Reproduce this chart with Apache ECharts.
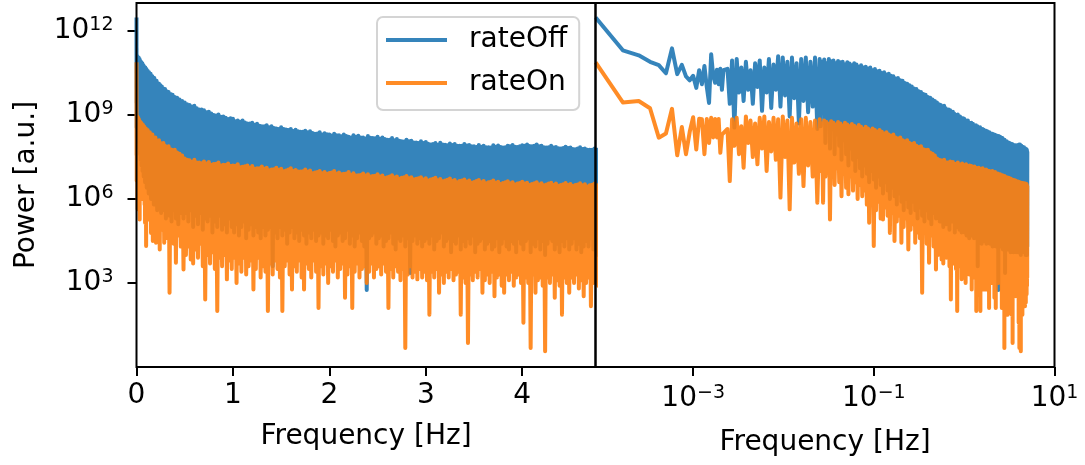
<!DOCTYPE html>
<html>
<head>
<meta charset="utf-8">
<script src="https://cdn.jsdelivr.net/npm/echarts@6/dist/echarts.min.js"></script>
<style>html,body{margin:0;padding:0;background:#fff;}#chart{width:1085px;height:465px;}</style>
</head>
<body>
<div id="chart"></div>
<script>
// ---- data (powers given as log10 exponents) ----
const freqResolution = 8.33e-5;            // Hz, spacing of the lowest bins
const seriesNames = ['rateOff', 'rateOn'];

// lowest 26 bins (f = k * freqResolution)
const rateOffLowBins = [12.48, 11.31, 11.13, 10.9, 10.78, 10.49, 11.38, 10.46, 10.79, 10.38, 10.24, 10.4, 9.97, 10.6, 10.1, 10.75, 10.0, 9.43, 11.17, 10.4, 10.15, 10.62, 10.1, 10.65, 9.9, 10.6];
const rateOnLowBins = [10.88, 9.45, 9.5, 9.24, 8.19, 8.34, 9.22, 7.56, 8.57, 7.6, 8.4, 8.92, 7.77, 8.87, 8.85, 7.6, 8.86, 8.0, 8.9, 8.2, 8.86, 8.2, 8.86, 7.65, 8.3, 8.23];

// band 1, log-frequency 10^-2.62 ... 10^-1.63 Hz
const band1StartExp = -2.62, band1StepExp = 0.0255;
const rateOffBand1 = [10.65, 9.4, 10.95, 8.55, 11.0, 9.8, 10.7, 9.5, 10.9, 9.9, 10.6, 9.4, 10.85, 10.0, 10.95, 9.15, 10.7, 9.8, 11.0, 9.25, 10.8, 9.9, 11.1, 9.3, 11.05, 9.7, 10.9, 8.95, 11.05, 9.6, 10.85, 8.7, 11.0, 9.5, 11.05, 9.1, 10.9, 9.3, 11.05, 8.5];
const rateOnBand1 = [8.5, 6.64, 8.85, 7.9, 8.9, 7.6, 8.6, 7.12, 8.95, 8.0, 8.8, 7.5, 8.7, 7.24, 8.9, 7.8, 8.95, 7.0, 8.75, 7.7, 8.9, 7.4, 8.85, 6.05, 8.95, 7.5, 8.8, 5.63, 8.9, 7.3, 8.7, 6.9, 8.85, 6.46, 8.9, 7.2, 8.75, 6.8, 8.8, 5.87];

// band 2, log-frequency 10^-1.6 ... ~0.49 Hz: peaks at even steps, troughs at odd steps
const band2StartExp = -1.6, band2StepExp = 0.012752;
const rateOffBand2Peaks = [11.0, 10.9, 10.98, 10.85, 11.0, 10.92, 10.95, 10.85, 10.93, 10.88, 10.9, 10.8, 10.88, 10.84, 10.78, 10.85, 10.8, 10.72, 10.78, 10.7, 10.72, 10.66, 10.7, 10.6, 10.64, 10.56, 10.58, 10.5, 10.53, 10.45, 10.47, 10.4, 10.38, 10.3, 10.32, 10.24, 10.22, 10.14, 10.12, 10.06, 10.02, 9.95, 9.93, 9.85, 9.82, 9.75, 9.72, 9.64, 9.62, 9.55, 9.5];
const rateOffBand2Troughs = [8.6, 9.2, 8.0, 8.8, 7.8, 8.5, 7.6, 8.3, 7.9, 7.4, 8.1, 7.6, 7.2, 7.8, 7.4, 7.0, 7.5, 7.1, 6.8, 7.2, 6.9, 6.6, 7.0, 6.7, 6.4, 6.8, 6.5, 6.2, 6.6, 6.3, 6.0, 6.4, 6.1, 5.8, 6.2, 5.9, 5.6, 6.0, 5.7, 5.5, 5.9, 5.6, 5.3, 5.7, 5.4, 5.2, 5.6, 5.3, 5.1, 5.5, 5.3];
const rateOnBand2Peaks = [8.85, 8.7, 8.8, 8.75, 8.68, 8.78, 8.72, 8.65, 8.75, 8.7, 8.62, 8.72, 8.66, 8.6, 8.68, 8.62, 8.55, 8.64, 8.58, 8.5, 8.58, 8.52, 8.45, 8.52, 8.46, 8.4, 8.46, 8.4, 8.34, 8.38, 8.3, 8.26, 8.3, 8.2, 8.16, 8.2, 8.1, 8.06, 8.1, 8.0, 7.96, 8.0, 7.9, 7.86, 7.88, 7.78, 7.75, 7.76, 7.66, 7.62, 7.55];
const rateOnBand2Troughs = [7.0, 5.87, 6.8, 7.2, 5.27, 6.9, 6.5, 7.1, 6.6, 6.1, 6.9, 6.4, 6.17, 6.8, 6.3, 6.6, 6.0, 6.5, 6.1, 6.3, 5.8, 5.15, 6.0, 4.32, 5.6, 5.9, 5.3, 5.27, 5.7, 5.4, 4.79, 5.5, 4.5, 5.2, 5.4, 4.44, 5.0, 5.3, 4.2, 4.9, 5.1, 4.44, 4.8, 4.6, 2.65, 4.9, 4.4, 3.72, 4.7, 4.3, 3.48];

// band 3, 0.5 ... 5.0 Hz every 0.0125 Hz: peaks at even steps, troughs at odd steps
const band3Start = 0.5, band3Step = 0.0125;
const rateOffPeaks = [9.45, 9.38, 9.36, 9.3, 9.33, 9.24, 9.2, 9.2, 9.17, 9.1, 9.12, 9.05, 9.0, 8.98, 9.02, 8.94, 8.95, 8.9, 8.86, 8.88, 8.87, 8.78, 8.8, 8.76, 8.8, 8.73, 8.7, 8.7, 8.72, 8.65, 8.69, 8.62, 8.6, 8.6, 8.63, 8.56, 8.6, 8.54, 8.52, 8.5, 8.56, 8.5, 8.48, 8.46, 8.5, 8.43, 8.47, 8.42, 8.4, 8.4, 8.44, 8.38, 8.42, 8.36, 8.33, 8.34, 8.38, 8.3, 8.35, 8.31, 8.3, 8.27, 8.33, 8.28, 8.28, 8.24, 8.3, 8.25, 8.22, 8.2, 8.28, 8.22, 8.26, 8.2, 8.2, 8.16, 8.25, 8.19, 8.18, 8.17, 8.22, 8.15, 8.2, 8.14, 8.12, 8.12, 8.18, 8.1, 8.14, 8.08, 8.06, 8.05, 8.12, 8.06, 8.08, 8.02, 8.02, 8.0, 8.06, 8.0, 8.04, 7.97, 7.95, 7.96, 8.0, 7.94, 8.01, 7.95, 7.94, 7.92, 7.98, 7.93, 7.96, 7.9, 7.9, 7.9, 7.96, 7.91, 7.93, 7.88, 7.88, 7.86, 7.93, 7.87, 7.9, 7.85, 7.85, 7.84, 7.92, 7.87, 7.91, 7.86, 7.84, 7.85, 7.9, 7.88, 7.93, 7.87, 7.86, 7.88, 7.92, 7.9, 7.95, 7.89, 7.88, 7.9, 7.95, 7.88, 7.9, 7.85, 7.84, 7.85, 7.9, 7.84, 7.86, 7.81, 7.8, 7.82, 7.87, 7.82, 7.84, 7.79, 7.78, 7.8, 7.85, 7.79, 7.8, 7.76, 7.76, 7.76, 7.8, 7.76, 7.78, 7.73, 7.74, 7.74, 7.78, 7.73, 7.75, 7.7, 7.7];
const rateOffTroughs = [5.5, 5.2, 5.6, 5.0, 5.4, 5.1, 5.5, 4.9, 5.3, 5.2, 5.4, 4.8, 5.2, 5.0, 5.4, 4.9, 5.1, 4.8, 5.3, 5.0, 4.8, 5.1, 4.7, 5.0, 5.2, 4.6, 4.9, 5.1, 4.7, 5.0, 4.8, 4.6, 5.0, 4.7, 4.9, 5.0, 3.6, 4.8, 4.6, 5.0, 4.7, 4.9, 4.4, 4.8, 5.0, 4.6, 4.8, 4.5, 4.9, 4.7, 4.4, 4.8, 4.6, 4.9, 4.5, 4.7, 4.8, 4.4, 4.7, 4.6, 4.9, 4.5, 4.3, 4.7, 4.8, 4.5, 4.6, 4.9, 4.4, 4.7, 4.3, 4.6, 4.8, 4.5, 4.3, 2.75, 4.6, 4.7, 4.8, 4.4, 4.6, 4.7, 4.3, 4.5, 4.6, 4.8, 4.4, 4.2, 4.6, 4.5, 4.7, 4.3, 4.6, 3.36, 4.5, 4.7, 4.4, 4.6, 4.3, 4.5, 4.6, 4.4, 4.7, 4.2, 4.5, 4.6, 4.8, 4.3, 4.5, 4.6, 4.1, 4.5, 4.4, 4.7, 4.2, 4.5, 4.3, 4.6, 4.4, 4.7, 4.1, 4.4, 4.5, 4.6, 4.2, 4.4, 4.5, 4.2, 4.3, 4.6, 4.1, 4.4, 4.6, 4.3, 4.2, 4.5, 4.4, 4.1, 4.6, 4.4, 4.2, 4.5, 4.6, 4.1, 4.4, 4.3, 4.6, 4.2, 4.5, 4.0, 4.4, 4.6, 4.5, 4.2, 4.4, 4.1, 4.5, 4.3, 4.6, 4.2, 4.4, 4.6, 4.2, 4.4, 4.1, 4.3, 4.5, 4.3, 4.6, 4.2, 4.4, 4.0, 4.3, 4.5, 4.2, 4.4, 4.1, 4.3, 4.0, 4.3];
const rateOnPeaks = [7.45, 7.4, 7.38, 7.33, 7.4, 7.3, 7.3, 7.28, 7.34, 7.27, 7.32, 7.22, 7.25, 7.26, 7.3, 7.2, 7.22, 7.21, 7.27, 7.18, 7.2, 7.19, 7.24, 7.13, 7.15, 7.17, 7.2, 7.12, 7.18, 7.08, 7.1, 7.1, 7.16, 7.08, 7.12, 7.03, 7.05, 7.06, 7.12, 7.04, 7.08, 6.99, 7.02, 7.05, 7.1, 7.0, 7.04, 6.98, 6.98, 6.99, 7.05, 6.97, 7.02, 6.92, 6.95, 6.96, 7.0, 6.92, 6.96, 6.9, 6.93, 6.95, 7.0, 6.9, 6.95, 6.88, 6.9, 6.91, 6.96, 6.87, 6.92, 6.84, 6.85, 6.86, 6.91, 6.84, 6.88, 6.8, 6.82, 6.83, 6.88, 6.8, 6.84, 6.75, 6.78, 6.8, 6.85, 6.77, 6.8, 6.72, 6.76, 6.78, 6.82, 6.74, 6.78, 6.7, 6.72, 6.74, 6.78, 6.7, 6.74, 6.66, 6.7, 6.72, 6.76, 6.67, 6.71, 6.63, 6.66, 6.69, 6.73, 6.64, 6.68, 6.6, 6.64, 6.66, 6.7, 6.62, 6.66, 6.58, 6.61, 6.64, 6.68, 6.6, 6.64, 6.56, 6.6, 6.62, 6.66, 6.58, 6.62, 6.54, 6.57, 6.6, 6.63, 6.56, 6.6, 6.52, 6.55, 6.57, 6.62, 6.55, 6.58, 6.5, 6.54, 6.56, 6.6, 6.52, 6.56, 6.49, 6.52, 6.55, 6.58, 6.5, 6.55, 6.47, 6.5, 6.53, 6.57, 6.5, 6.54, 6.46, 6.5, 6.52, 6.56, 6.49, 6.53, 6.45, 6.49, 6.51, 6.55, 6.48, 6.52, 6.44, 6.48, 6.5, 6.54, 6.46, 6.5, 6.44, 6.47];
const rateOnTroughs = [4.0, 4.3, 3.84, 3.7, 4.2, 3.9, 4.4, 3.6, 2.41, 4.0, 3.7, 4.1, 3.5, 2.0, 3.9, 3.6, 4.0, 3.13, 3.8, 3.5, 3.9, 3.0, 3.7, 3.4, 3.9, 3.3, 3.6, 3.8, 2.77, 3.5, 3.9, 3.2, 3.6, 3.4, 2.0, 3.7, 3.3, 3.8, 3.5, 3.2, 2.0, 3.6, 3.8, 3.3, 2.77, 3.6, 3.4, 3.8, 3.2, 2.77, 3.7, 3.5, 3.2, 3.8, 3.4, 2.11, 3.6, 3.3, 3.7, 3.0, 3.6, 3.4, 3.8, 3.2, 3.5, 3.7, 2.47, 3.3, 3.6, 2.11, 3.4, 3.7, 3.2, 3.5, 3.6, 3.0, 3.4, 3.7, 3.2, 3.5, 3.6, 3.3, 3.7, 3.4, 2.11, 3.5, 3.2, 3.6, 3.4, 3.1, 3.5, 0.68, 3.3, 3.6, 3.2, 3.4, 3.13, 3.5, 3.2, 3.4, 3.1, 1.87, 3.4, 3.2, 3.5, 2.65, 3.3, 3.0, 3.4, 3.2, 3.5, 3.1, 3.3, 3.4, 1.87, 3.2, 3.0, 0.86, 3.3, 3.1, 3.4, 3.2, 3.5, 2.65, 3.1, 3.3, 3.0, 3.4, 2.53, 3.2, 3.3, 2.9, 2.65, 3.3, 3.1, 3.4, 2.9, 3.2, 3.3, 3.0, 1.58, 3.2, 3.0, 0.68, 3.3, 2.65, 3.1, 3.2, 2.9, 0.56, 3.2, 3.0, 3.3, 2.47, 3.1, 2.9, 1.87, 3.2, 3.0, 2.65, 3.2, 3.0, 3.3, 2.8, 3.1, 2.53, 3.0, 3.2, 2.17, 3.0, 3.2, 2.9, 2.3, 3.1, 2.8, 3.0, 2.6, 3.1, 2.9, 3.2];

// axis ticks
const linearTicks = [0, 1, 2, 3, 4];
const logFreqTicks = [1e-3, 1e-1, 1e1];
const powerTicks = [1e3, 1e6, 1e9, 1e12];

// ---- build point lists ----
function pushAlternating(pts, peaks, troughs, freqOf) {
  const n = peaks.length + troughs.length;
  for (let i = 0; i < n; i++) {
    const e = i % 2 === 0 ? peaks[i / 2] : troughs[(i - 1) / 2];
    pts.push([freqOf(i), Math.pow(10, e)]);
  }
}
function buildPoints(lowBins, band1, b2Peaks, b2Troughs, b3Peaks, b3Troughs) {
  const pts = [];
  lowBins.forEach((e, k) => pts.push([(k + 1) * freqResolution, Math.pow(10, e)]));
  band1.forEach((e, j) => pts.push([Math.pow(10, band1StartExp + band1StepExp * j), Math.pow(10, e)]));
  pushAlternating(pts, b2Peaks, b2Troughs, i => Math.pow(10, band2StartExp + band2StepExp * i));
  pushAlternating(pts, b3Peaks, b3Troughs, i => band3Start + band3Step * i);
  return pts;
}
const rateOffPts = buildPoints(rateOffLowBins, rateOffBand1, rateOffBand2Peaks, rateOffBand2Troughs, rateOffPeaks, rateOffTroughs);
const rateOnPts = buildPoints(rateOnLowBins, rateOnBand1, rateOnBand2Peaks, rateOnBand2Troughs, rateOnPeaks, rateOnTroughs);

const FONT = 'DejaVu Sans';
const blue = 'rgba(31,119,180,0.9)';
const orange = 'rgba(255,127,14,0.9)';

function sciLabel(v) {
  const e = Math.round(Math.log10(v));
  return '{b|10}{s|' + String(e).replace('-', '\u2212') + '}';
}
const sciRich = {
  b: { fontSize: 28, fontFamily: FONT, color: '#000', lineHeight: 30 },
  s: { fontSize: 19, fontFamily: FONT, color: '#000', lineHeight: 16, verticalAlign: 'top' }
};

function lineSeries(name, data, color, idx) {
  return {
    name: name, type: 'line', data: data, xAxisIndex: idx, yAxisIndex: idx,
    symbol: 'none', showSymbol: false, animation: false, clip: true,
    color: color,
    lineStyle: { color: color, width: 4, join: 'round', cap: 'butt' }
  };
}

const chart = echarts.init(document.getElementById('chart'), null, { renderer: 'canvas' });
chart.setOption({
  animation: false,
  backgroundColor: '#fff',
  textStyle: { fontFamily: FONT },
  grid: [
    { left: 136.5, top: 3, width: 459, height: 364, show: true, borderColor: '#000', borderWidth: 2, backgroundColor: 'transparent', z: 10 },
    { left: 595.5, top: 3, width: 459, height: 364, show: true, borderColor: '#000', borderWidth: 2, backgroundColor: 'transparent', z: 10 }
  ],
  legend: {
    data: [
      { name: seriesNames[0], itemStyle: { color: blue } },
      { name: seriesNames[1], itemStyle: { color: orange } }
    ],
    orient: 'vertical', left: 377, top: 17,
    padding: [8, 12, 12, 9], itemGap: 13,
    itemWidth: 61, itemHeight: 4, icon: 'rect',
    backgroundColor: '#fff', borderColor: '#d4d4d4', borderWidth: 2, borderRadius: 6,
    selectedMode: false,
    textStyle: { fontSize: 28, fontFamily: FONT, color: '#000', lineHeight: 30, padding: [0, 0, 0, 17] }
  },
  xAxis: [
    {
      type: 'value', gridIndex: 0, min: 0, max: 4.76,
      name: 'Frequency [Hz]', nameLocation: 'middle', nameGap: 56,
      nameTextStyle: { fontSize: 28, fontFamily: FONT, color: '#000' },
      axisLine: { show: false },
      axisTick: { show: true, customValues: linearTicks, length: 9, lineStyle: { color: '#000', width: 2 } },
      axisLabel: { show: true, customValues: linearTicks, margin: 14, fontSize: 28, fontFamily: FONT, color: '#000', lineHeight: 30 },
      splitLine: { show: false }
    },
    {
      type: 'log', gridIndex: 1, min: 8.3e-5, max: 10,
      name: 'Frequency [Hz]', nameLocation: 'middle', nameGap: 62,
      nameTextStyle: { fontSize: 28, fontFamily: FONT, color: '#000' },
      axisLine: { show: false },
      axisTick: { show: true, customValues: logFreqTicks, length: 9, lineStyle: { color: '#000', width: 2 } },
      axisLabel: { show: true, customValues: logFreqTicks, margin: 17, formatter: sciLabel, rich: sciRich },
      splitLine: { show: false }, minorTick: { show: false }
    }
  ],
  yAxis: [
    {
      type: 'log', gridIndex: 0, min: 1, max: 1e13,
      name: 'Power [a.u.]', nameLocation: 'middle', nameGap: 96, nameRotate: 90,
      nameTextStyle: { fontSize: 28, fontFamily: FONT, color: '#000' },
      axisLine: { show: false },
      axisTick: { show: true, customValues: powerTicks, length: 9, lineStyle: { color: '#000', width: 2 } },
      axisLabel: { show: true, customValues: powerTicks, margin: 23, formatter: sciLabel, rich: sciRich },
      splitLine: { show: false }, minorTick: { show: false }
    },
    {
      type: 'log', gridIndex: 1, min: 1, max: 1e13,
      axisLine: { show: false }, axisTick: { show: false }, axisLabel: { show: false },
      splitLine: { show: false }, minorTick: { show: false }
    }
  ],
  series: [
    lineSeries(seriesNames[0], rateOffPts, blue, 0),
    lineSeries(seriesNames[1], rateOnPts, orange, 0),
    lineSeries(seriesNames[0], rateOffPts, blue, 1),
    lineSeries(seriesNames[1], rateOnPts, orange, 1)
  ]
});
</script>
</body>
</html>
